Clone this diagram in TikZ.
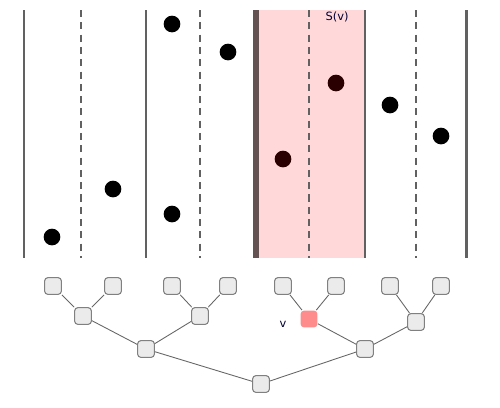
\documentclass[tikz,border=0pt]{standalone}
\usepackage{fontspec}
\setmainfont{DejaVu Sans}
\definecolor{leftline}{RGB}{100,82,82}
\definecolor{inpt}{RGB}{42,0,0}
\begin{document}
\begin{tikzpicture}[x=0.02cm,y=-0.02cm,
  sline/.style={draw=black!62,line width=1.7pt},
  dline/.style={draw=black!62,line width=0.8pt,dash pattern=on 4pt off 3pt},
  pt/.style={circle,fill=black,inner sep=0pt,minimum size=9.5pt},
  ptin/.style={circle,fill=inpt,inner sep=0pt,minimum size=9.5pt},
  tn/.style={draw=black!50,fill=black!8,rounded corners=1.8pt,minimum size=9.5pt,inner sep=0pt,line width=0.6pt},
  tv/.style={tn,draw=none,fill=red!45},
  edge/.style={draw=black!60,line width=0.5pt},
  lbl/.style={font=\fontsize{6.5}{7}\selectfont,text=black!80!blue}]
\useasboundingbox (0,0) rectangle (500,407);
\fill[red!15] (256,10) rectangle (365,258);
\foreach \x/\n in {24/a,146/b,365/d,466/e} \draw[sline] (\x,10) -- (\x,258);
\draw[draw=leftline,line width=3.2pt] (256,10) -- (256,258);
\foreach \x in {81,200,309,416} \draw[dline] (\x,10) -- (\x,258);
\node[lbl] (sv) at (337,17) {S(v)};
\node[pt] (p1) at (52,237) {};
\node[pt] (p2) at (113,189) {};
\node[pt] (p3) at (172,24) {};
\node[pt] (p4) at (228,52) {};
\node[pt] (p5) at (172,214) {};
\node[ptin] (p6) at (283,159) {};
\node[ptin] (p7) at (336,83) {};
\node[pt] (p8) at (390,105) {};
\node[pt] (p9) at (441,136) {};
% tree
\node[tn] (l1) at (53,286) {};
\node[tn] (l2) at (113,286) {};
\node[tn] (l3) at (172,286) {};
\node[tn] (l4) at (228,286) {};
\node[tn] (l5) at (283,286) {};
\node[tn] (l6) at (336,286) {};
\node[tn] (l7) at (390,286) {};
\node[tn] (l8) at (441,286) {};
\node[tn] (m1) at (83,316) {};
\node[tn] (m2) at (200,316) {};
\node[tv] (m3) at (309,319) {};
\node[tn] (m4) at (416,322) {};
\node[tn] (n1) at (146,349) {};
\node[tn] (n2) at (365,349) {};
\node[tn] (r) at (261,384) {};
\node[lbl] (vl) at (283,324) {v};
\foreach \a/\b in {l1/m1,l2/m1,l3/m2,l4/m2,l5/m3,l6/m3,l7/m4,l8/m4,m1/n1,m2/n1,m3/n2,m4/n2,n1/r,n2/r}
  \draw[edge] (\a) -- (\b);
\end{tikzpicture}
\end{document}
